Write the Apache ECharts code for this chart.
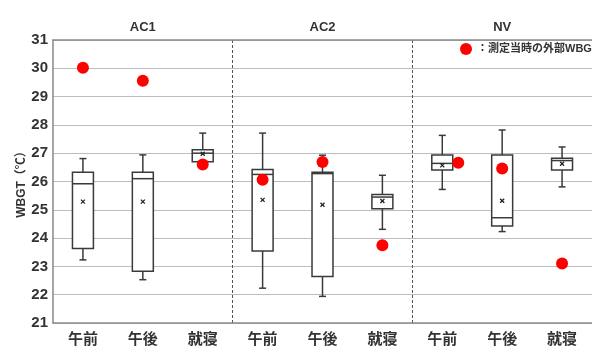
<!DOCTYPE html>
<html>
<head>
<meta charset="utf-8">
<script src="https://cdn.jsdelivr.net/npm/echarts@6/dist/echarts.min.js"></script>
<style>
html,body{margin:0;padding:0;background:#fff;}
#chart{width:592px;height:347px;}
</style>
</head>
<body>
<div id="chart"></div>
<script>
const groups = ['AC1', 'AC2', 'NV'];
const periods = ['午前', '午後', '就寝'];
const categories = ['午前', '午後', '就寝', '午前', '午後', '就寝', '午前', '午後', '就寝'];
const whiskerLow  = [23.23, 22.53, 26.50, 22.23, 21.94, 24.31, 25.72, 24.23, 25.81];
const q1          = [23.63, 22.83, 26.70, 23.54, 22.64, 25.04, 26.41, 24.43, 26.41];
const median      = [25.92, 26.10, 27.00, 26.25, 26.28, 25.45, 26.64, 24.72, 26.74];
const q3          = [26.33, 26.33, 27.12, 26.42, 26.33, 25.54, 26.94, 26.94, 26.82];
const whiskerHigh = [26.81, 26.94, 27.71, 27.71, 26.93, 26.22, 27.63, 27.82, 27.22];
const meanValue   = [25.29, 25.29, 26.98, 25.35, 25.18, 25.31, 26.57, 25.32, 26.63];
const outdoorWBGT = [30.02, 29.56, 26.60, 26.06, 26.69, 23.75, 26.66, 26.46, 23.10];
const yTicks = [21, 22, 23, 24, 25, 26, 27, 28, 29, 30, 31];
const legendName = '：測定当時の外部WBGT';

const FONT = "'Liberation Sans', 'Noto Sans CJK JP', sans-serif";
const boxData = categories.map((c, i) => [i, whiskerLow[i], q1[i], median[i], q3[i], whiskerHigh[i], meanValue[i]]);
const dotData = categories.map((c, i) => {
  const d = { value: [i, outdoorWBGT[i]] };
  if (i === 6) d.symbolOffset = [16, 0];
  return d;
});

function renderBox(params, api) {
  const x = api.value(0);
  const band = api.size([1, 0])[0];
  const bw = band * 0.35, cw = 7;
  const pLow = api.coord([x, api.value(1)]);
  const pQ1 = api.coord([x, api.value(2)]);
  const pMed = api.coord([x, api.value(3)]);
  const pQ3 = api.coord([x, api.value(4)]);
  const pHigh = api.coord([x, api.value(5)]);
  const pMean = api.coord([x, api.value(6)]);
  const cx = pQ1[0];
  const st = { stroke: '#3a3a3a', lineWidth: 1.5, fill: null };
  const ln = (x1, y1, x2, y2) => ({ type: 'line', shape: { x1, y1, x2, y2 }, style: st });
  return {
    type: 'group',
    children: [
      ln(cx, pHigh[1], cx, pQ3[1]),
      ln(cx, pLow[1], cx, pQ1[1]),
      ln(cx - cw / 2, pHigh[1], cx + cw / 2, pHigh[1]),
      ln(cx - cw / 2, pLow[1], cx + cw / 2, pLow[1]),
      { type: 'rect', shape: { x: cx - bw / 2, y: pQ3[1], width: bw, height: pQ1[1] - pQ3[1] },
        style: { stroke: '#3a3a3a', lineWidth: 1.5, fill: '#fff' } },
      ln(cx - bw / 2, pMed[1], cx + bw / 2, pMed[1]),
      { type: 'line', shape: { x1: cx - 2, y1: pMean[1] - 2, x2: cx + 2, y2: pMean[1] + 2 }, style: { stroke: '#222', lineWidth: 1.3 } },
      { type: 'line', shape: { x1: cx - 2, y1: pMean[1] + 2, x2: cx + 2, y2: pMean[1] - 2 }, style: { stroke: '#222', lineWidth: 1.3 } }
    ]
  };
}

const chart = echarts.init(document.getElementById('chart'), null, { renderer: 'canvas' });
chart.setOption({
  animation: false,
  backgroundColor: '#fff',
  textStyle: { fontFamily: FONT },
  grid: { left: 53, top: 40, width: 547, height: 284 },
  legend: {
    data: [legendName],
    left: 460, top: 43, padding: 0,
    itemWidth: 12, itemHeight: 12, icon: 'circle', itemGap: 4,
    textStyle: { fontSize: 11, fontWeight: 'bold', color: '#333', fontFamily: FONT }
  },
  xAxis: [
    {
      type: 'category', data: categories, position: 'bottom',
      axisLine: { lineStyle: { color: '#8a8a8a', width: 1.5 } },
      axisTick: { show: false },
      axisLabel: { fontSize: 15, fontWeight: 'bold', color: '#333', margin: 9, fontFamily: FONT },
      splitLine: { show: false }
    },
    {
      type: 'category', data: groups, position: 'top',
      axisLine: { show: true, lineStyle: { color: '#8a8a8a', width: 1.5 } },
      axisTick: { show: false },
      axisLabel: { fontSize: 13, fontWeight: 'bold', color: '#333', margin: 6, fontFamily: FONT },
      splitLine: { show: true, interval: function (i) { return i > 0; }, lineStyle: { color: '#555', type: [3, 2], width: 1 } }
    }
  ],
  yAxis: {
    type: 'value', min: yTicks[0], max: yTicks[yTicks.length - 1], interval: 1,
    name: 'WBGT（℃）', nameLocation: 'middle', nameGap: 25, nameMoveOverlap: false,
    nameTextStyle: { fontSize: 12, fontWeight: 'bold', color: '#333', fontFamily: FONT },
    axisLine: { show: true, lineStyle: { color: '#8a8a8a', width: 1.5 } },
    axisTick: { show: false },
    axisLabel: { fontSize: 15, fontWeight: 'bold', color: '#333', margin: 5, fontFamily: FONT },
    splitLine: { show: true, lineStyle: { color: '#bdbdbd', width: 1.2 } }
  },
  series: [
    {
      type: 'custom', xAxisIndex: 0, renderItem: renderBox, data: boxData, z: 3,
      encode: { x: 0, y: [1, 2, 3, 4, 5, 6] }
    },
    {
      name: legendName, type: 'scatter', xAxisIndex: 0, data: dotData,
      symbol: 'circle', symbolSize: 12, itemStyle: { color: '#ff0000', opacity: 1 }, z: 5
    }
  ]
});
</script>
</body>
</html>
